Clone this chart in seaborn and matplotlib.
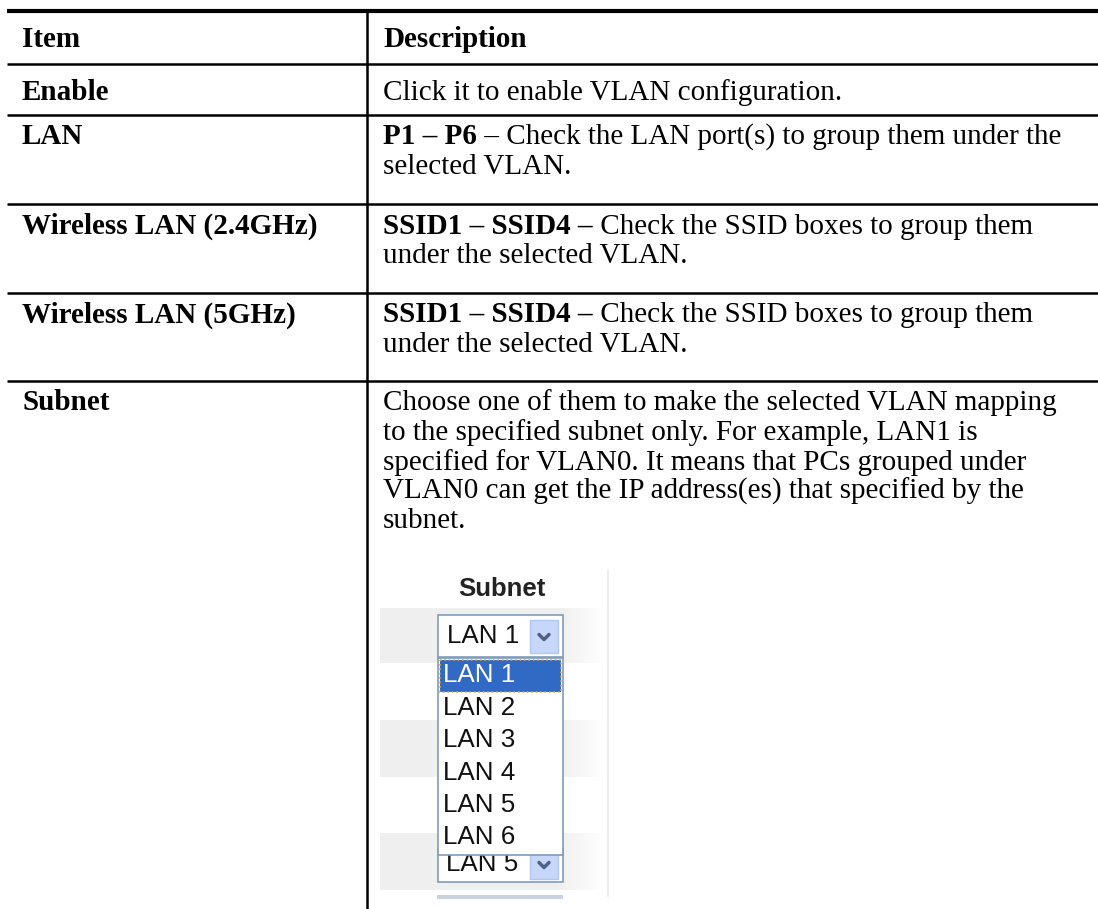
import numpy as np
import matplotlib
matplotlib.use('Agg')
import matplotlib.pyplot as plt
import seaborn as sns
from matplotlib.patches import Rectangle

# table content
headers = ['Item', 'Description']
items = ['Enable', 'LAN', 'Wireless LAN (2.4GHz)', 'Wireless LAN (5GHz)', 'Subnet']
desc_bold = ['', 'P1 \u2013 P6', 'SSID1 \u2013 SSID4 \u2013', 'SSID1 \u2013 SSID4 \u2013', '']
desc_lines = [
    ['Click it to enable VLAN configuration.'],
    [' \u2013 Check the LAN port(s) to group them under the', 'selected VLAN.'],
    [' Check the SSID boxes to group them', 'under the selected VLAN.'],
    [' Check the SSID boxes to group them', 'under the selected VLAN.'],
    ['Choose one of them to make the selected VLAN mapping',
     'to the specified subnet only. For example, LAN1 is',
     'specified for VLAN0. It means that PCs grouped under',
     'VLAN0 can get the IP address(es) that specified by the',
     'subnet.'],
]

# dropdown screenshot content
subnet_title = 'Subnet'
subnet_options = ['LAN 1', 'LAN 2', 'LAN 3', 'LAN 4', 'LAN 5', 'LAN 6']
subnet_selected = 'LAN 1'
subnet_next_row = 'LAN 5'

sns.set_theme(style='white')
plt.rcParams['font.family'] = ['Liberation Serif', 'DejaVu Serif']
plt.rcParams['text.color'] = 'black'

W, H = 1098, 909
fig = plt.figure(figsize=(W / 100, H / 100), dpi=100)
ax = fig.add_axes([0, 0, 1, 1])

FS = 21
col_x = [22, 383]
table_left, col_div = 7, 367
header_top = 11
row_tops = [63.5, 115, 204, 293, 381]
line_step = 29.5

# rules
ax.hlines(header_top, table_left, W, color='black', lw=3.0)
ax.hlines(row_tops, table_left, W, color='black', lw=1.8)
ax.vlines(col_div, header_top, H, color='black', lw=1.8)

# header
for x, h in zip(col_x, headers):
    ax.text(x, header_top + 36, h, fontsize=FS, fontweight='bold', va='baseline', ha='left')

# body rows
for i, (item, bold, lines) in enumerate(zip(items, desc_bold, desc_lines)):
    top = row_tops[i]
    base = top + 36.5 if len(lines) == 1 else top + 29.5
    ax.text(col_x[0], base, item, fontsize=FS, fontweight='bold', va='baseline')
    for j, line in enumerate(lines):
        y = base + j * line_step
        if j == 0 and bold:
            tb = ax.text(col_x[1], y, bold, fontsize=FS, fontweight='bold', va='baseline')
            ax.annotate(line, xy=(1, 0), xycoords=tb, fontsize=FS, va='bottom', ha='left')
        else:
            ax.text(col_x[1], y, line, fontsize=FS, va='baseline')

# ---- dropdown screenshot ----
sans = ['Liberation Sans', 'DejaVu Sans']
band_color = np.array([0.94, 0.94, 0.94])
grad = np.ones((1, 230, 4))
fade = np.clip((605 - np.linspace(380, 610, 230)) / 45, 0, 1)
grad[0, :, :3] = 1 - (1 - band_color) * fade[:, None]
for y0, y1 in [(608, 663), (720, 777), (833, 890)]:
    ax.imshow(grad, extent=[380, 610, y1, y0], aspect='auto', zorder=1, interpolation='bilinear')
ax.vlines(608, 570, 897, color='#ececec', lw=1.5, zorder=1)

ax.text(502, 589, subnet_title, fontsize=18.5, fontweight='bold', family=sans,
        ha='center', va='center', color='#222222', zorder=3)

edge = '#7f9db9'


def arrow_button(y0, h, z):
    ax.add_patch(Rectangle((530, y0), 28, h, facecolor='#c6d7fb', edgecolor='#b2c6f2', lw=1, zorder=z))
    cy = y0 + h / 2
    ax.plot([539, 544, 549], [cy - 2, cy + 3, cy - 2], color='#4d6185', lw=2.5, zorder=z + 0.1,
            solid_capstyle='round')


# lower (partially hidden) dropdown
ax.add_patch(Rectangle((438, 848), 125, 34, facecolor='white', edgecolor=edge, lw=1.2, zorder=2))
ax.text(446, 864, subnet_next_row, fontsize=18.7, family=sans, va='center', color='#111111', zorder=2.2)
arrow_button(850, 29, 2.3)
ax.add_patch(Rectangle((437, 895), 126, 4, facecolor='#c9d2de', edgecolor='none', zorder=2))

# top dropdown
ax.add_patch(Rectangle((438, 615), 125, 42, facecolor='white', edgecolor=edge, lw=1.2, zorder=3))
ax.text(447, 636, subnet_selected, fontsize=18.7, family=sans, va='center', color='#111111', zorder=3.2)
arrow_button(620, 33, 3.3)

# open list
ax.add_patch(Rectangle((438, 658), 125, 197, facecolor='white', edgecolor=edge, lw=1.2, zorder=4))
opt_top, opt_step = 660, 32.4
for k, opt in enumerate(subnet_options):
    cy = opt_top + 15.5 + k * opt_step
    sel = opt == subnet_selected
    if sel:
        ax.add_patch(Rectangle((440, opt_top), 121, 32, facecolor='#316ac5', edgecolor='#e0a050',
                               lw=1.2, linestyle=':', zorder=4.1))
    ax.text(443, cy, opt, fontsize=18.7, family=sans, va='center',
            color='white' if sel else '#111111', zorder=4.2)

ax.set_xlim(0, W)
ax.set_ylim(H, 0)
ax.axis('off')

fig.savefig('out.png', dpi=100, facecolor='white')
